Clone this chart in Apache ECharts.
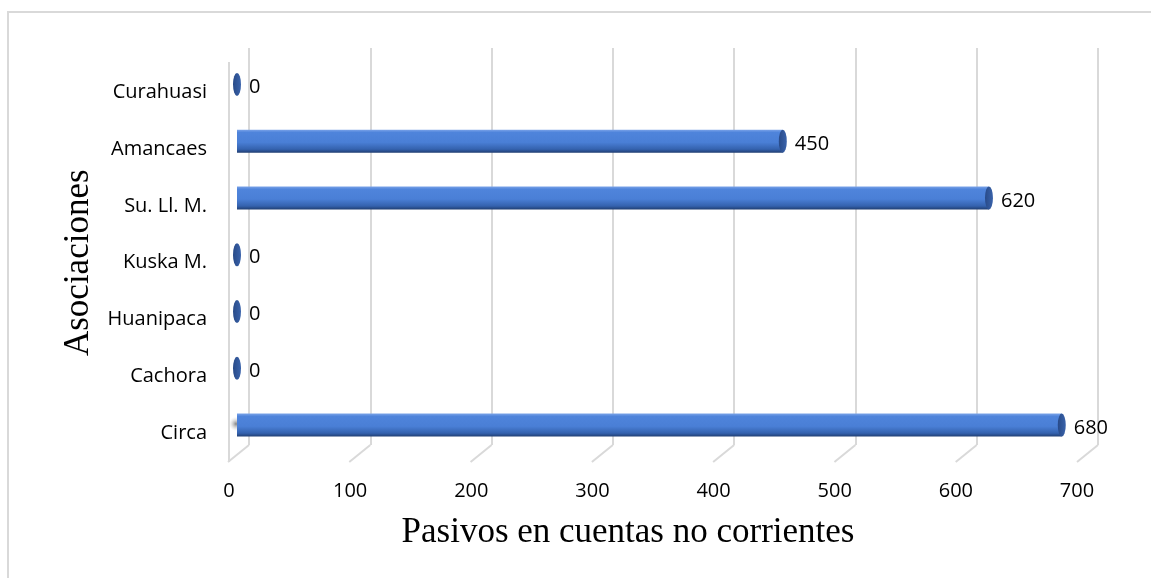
<!DOCTYPE html>
<html>
<head>
<meta charset="utf-8">
<script src="https://cdn.jsdelivr.net/npm/echarts@6/dist/echarts.min.js"></script>
<style>
  html, body { margin: 0; padding: 0; background: #fff; }
  #chart { width: 1151px; height: 578px; }
</style>
</head>
<body>
<div id="chart"></div>
<script>
  // data
  var categories = ['Circa', 'Cachora', 'Huanipaca', 'Kuska M.', 'Su. Ll. M.', 'Amancaes', 'Curahuasi'];
  var values = [680, 0, 0, 0, 620, 450, 0];
  var tickValues = [0, 100, 200, 300, 400, 500, 600, 700];

  var chart = echarts.init(document.getElementById('chart'));

  var labelFont = '"Open Sans", Lato, sans-serif';
  var serifFont = '"Liberation Serif", "Times New Roman", serif';
  var barGrad = new echarts.graphic.LinearGradient(0, 0, 0, 1, [
    {offset: 0, color: '#7aa3e8'},
    {offset: 0.12, color: '#4f84db'},
    {offset: 0.55, color: '#4a7fd6'},
    {offset: 0.85, color: '#3462ae'},
    {offset: 1, color: '#203e72'}
  ]);
  var capGrad = new echarts.graphic.LinearGradient(0, 0, 1, 0, [
    {offset: 0, color: '#284a88'},
    {offset: 1, color: '#3a63ab'}
  ]);

  var capData = [];
  for (var i = 0; i < categories.length; i++) {
    capData.push([values[i], categories[i]]);
  }

  var option = {
    animation: false,
    backgroundColor: '#fff',
    grid: [
      // back wall gridlines
      {left: 249, top: 48, width: 849, height: 397},
      // bars
      {left: 237, top: 56, width: 849, height: 397.5},
      // front labels
      {left: 229, top: 64, width: 848, height: 397.5}
    ],
    xAxis: [
      {
        gridIndex: 0, type: 'value', min: 0, max: 700, interval: 100,
        axisLine: {show: false}, axisTick: {show: false}, axisLabel: {show: false},
        splitLine: {show: true, lineStyle: {color: '#d9d9d9', width: 2}}
      },
      {
        gridIndex: 1, type: 'value', min: 0, max: 700, interval: 100,
        axisLine: {show: false}, axisTick: {show: false}, axisLabel: {show: false},
        splitLine: {show: false}
      },
      {
        gridIndex: 2, type: 'value', min: 0, max: 700, interval: 100,
        axisLine: {show: false}, axisTick: {show: false},
        splitLine: {show: false},
        axisLabel: {show: true, margin: 20, color: '#000', fontSize: 20, fontFamily: labelFont}
      }
    ],
    yAxis: [
      {gridIndex: 0, type: 'value', min: 0, max: 1, show: false},
      {gridIndex: 1, type: 'category', data: categories, show: false},
      {
        gridIndex: 2, type: 'category', data: categories,
        axisLine: {show: false}, axisTick: {show: false},
        axisLabel: {margin: 22, color: '#000', fontSize: 20, fontFamily: labelFont},
        name: 'Asociaciones', nameLocation: 'middle', nameGap: 129, nameRotate: 90,
        nameTextStyle: {fontFamily: serifFont, fontSize: 35, color: '#000'}
      }
    ],
    series: [
      {
        // slanted feet of the gridlines
        type: 'custom',
        xAxisIndex: 0, yAxisIndex: 0,
        data: tickValues,
        silent: true,
        renderItem: function (params, api) {
          var p = api.coord([api.value(0), 0]);
          return {
            type: 'line',
            shape: {x1: p[0], y1: p[1], x2: p[0] - 21, y2: p[1] + 17},
            style: {stroke: '#d9d9d9', lineWidth: 2}
          };
        }
      },
      {
        type: 'bar',
        xAxisIndex: 1, yAxisIndex: 1,
        data: values,
        barWidth: 23,
        itemStyle: {color: barGrad}
      },
      {
        // end caps of the cylinders, with value labels
        type: 'scatter',
        xAxisIndex: 1, yAxisIndex: 1,
        data: capData,
        symbol: 'circle',
        symbolSize: [8, 23],
        itemStyle: {color: capGrad, opacity: 1},
        label: {
          show: true, position: 'right', distance: 8, offset: [0, 3],
          color: '#000', fontSize: 20, fontFamily: labelFont,
          formatter: function (p) { return p.value[0]; }
        }
      }
    ],
    graphic: [
      {
        type: 'rect', silent: true, z: -10,
        shape: {x: 8, y: 12, width: 1200, height: 700},
        style: {fill: 'none', stroke: '#d9d9d9', lineWidth: 2}
      },
      {
        // shadow of the lowest bar on the side wall
        type: 'rect', silent: true, z: -5,
        shape: {x: 230, y: 396, width: 12, height: 62},
        style: {
          fill: new echarts.graphic.RadialGradient(0.5, 0.45, 0.6, [
            {offset: 0, color: 'rgba(90,90,90,0.75)'},
            {offset: 1, color: 'rgba(200,200,200,0)'}
          ])
        }
      },
      {
        type: 'line', silent: true,
        shape: {x1: 229, y1: 62, x2: 229, y2: 462},
        style: {stroke: '#d9d9d9', lineWidth: 2}
      },
      {
        type: 'text', silent: true, x: 628, y: 533,
        style: {
          text: 'Pasivos en cuentas no corrientes',
          fontFamily: serifFont, fontSize: 35, fill: '#000',
          align: 'center', verticalAlign: 'middle'
        }
      }
    ]
  };

  chart.setOption(option);
</script>
</body>
</html>
